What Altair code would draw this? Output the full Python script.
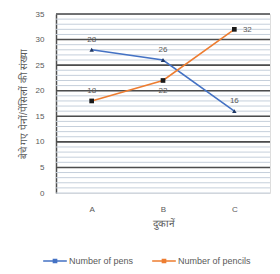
import altair as alt
import pandas as pd

shops = ["A", "B", "C"]
pens = [28, 26, 16]
pencils = [18, 22, 32]
series_names = ["Number of pens", "Number of pencils"]
minor_ticks = list(range(0, 36))
major_ticks = [5, 10, 15, 20, 25, 30, 35]

rows = []
for i, s in enumerate(shops):
    rows.append({"shop": s, "series": series_names[0], "value": pens[i]})
    rows.append({"shop": s, "series": series_names[1], "value": pencils[i]})
df = pd.DataFrame(rows)
df["pos"] = ["above", "above", "above", "below", "above", "right"]

FONT = "Liberation Sans"
GRAY = "#595959"

x_enc = alt.X("shop:N", scale=alt.Scale(type="point", padding=0.5, domain=shops),
              axis=alt.Axis(title="दुकानें", labelAngle=0, domain=False, ticks=False,
                            labelPadding=12, titlePadding=5, labelFontSize=8,
                            titleFontSize=10, labelColor=GRAY, titleColor=GRAY,
                            titleFontWeight="normal", labelFont=FONT))
y_scale = alt.Scale(domain=[0, 35], nice=False)
y_axis = alt.Axis(title="बेचे गए पेनों/पेंसिलों की संख्या", values=[0] + major_ticks,
                  grid=False, ticks=False, domainColor="#4d4d4d", domainWidth=1.5,
                  labelOverlap=False,
                  labelFontSize=8, labelColor=GRAY, labelPadding=12, labelFont=FONT,
                  titleFontSize=10, titleColor=GRAY, titleFontWeight="normal",
                  titlePadding=7)

minor = alt.Chart(pd.DataFrame({"v": minor_ticks})).mark_rule(
    color="#c5cfdb", strokeWidth=1).encode(y=alt.Y("v:Q", scale=y_scale, axis=y_axis))
major = alt.Chart(pd.DataFrame({"v": major_ticks})).mark_rule(
    color="#4d4d4d", strokeWidth=1.6).encode(y=alt.Y("v:Q", scale=y_scale, axis=y_axis))

color = alt.Color("series:N", scale=alt.Scale(domain=series_names, range=["#4472c4", "#ed7d31"]),
                  legend=alt.Legend(title=None, orient="none", direction="horizontal",
                                    legendX=-14, legendY=234,
                                    symbolType="M-1,0H1M-0.13,-0.13H0.13V0.13H-0.13Z",
                                    symbolSize=560, symbolStrokeWidth=1.6,
                                    labelFontSize=9, labelColor=GRAY, labelFont=FONT,
                                    columnPadding=14, labelOffset=1, labelLimit=200))

base = alt.Chart(df)
lines = base.mark_line(strokeWidth=1.6).encode(
    x=x_enc,
    y=alt.Y("value:Q", scale=y_scale, axis=y_axis),
    color=color,
)

def markers(name, shape, fill, size):
    return base.transform_filter(alt.datum.series == name).mark_point(
        filled=True, size=size, opacity=1, shape=shape, fill=fill, strokeWidth=0).encode(
        x="shop:N", y=alt.Y("value:Q", scale=y_scale, axis=y_axis))

def labels(pos, dx, dy):
    return base.transform_filter(alt.datum.pos == pos).mark_text(
        dx=dx, dy=dy, fontSize=8, color=GRAY, font=FONT).encode(
        x="shop:N", y=alt.Y("value:Q", scale=y_scale, axis=y_axis), text="value:Q")

chart = alt.layer(minor, major, lines,
                  markers(series_names[0], "triangle-up", "#203864", 20),
                  markers(series_names[1], "square", "#1a1a1a", 22),
                  labels("above", 0, -10), labels("below", 0, 11), labels("right", 13, 1)
                  ).properties(
    width=214, height=179,
    autosize=alt.AutoSizeParams(type="none"),
    padding={"left": 48, "top": 6, "right": 2, "bottom": 73},
).configure_view(stroke=None).configure(background="white")

chart.save("out.html", embed_options={"renderer": "svg", "actions": False})
